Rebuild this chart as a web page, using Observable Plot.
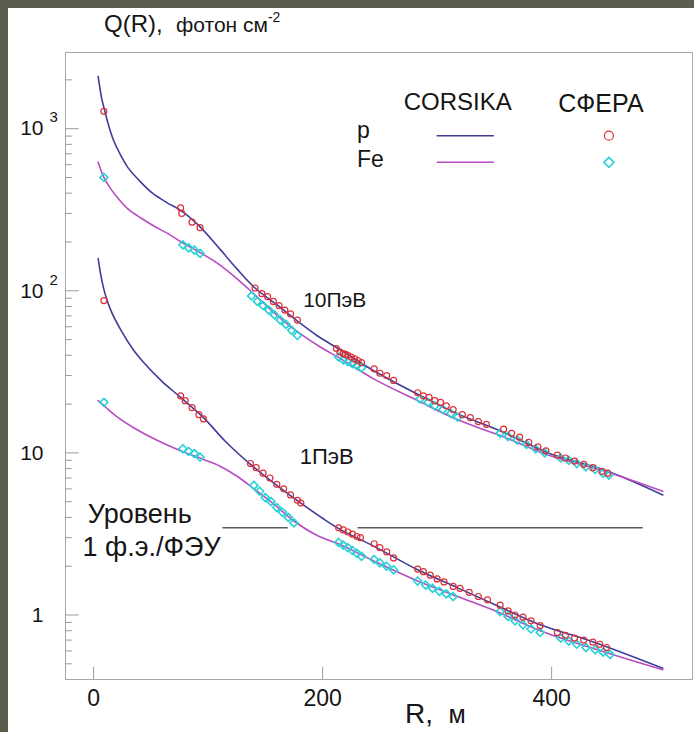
<!DOCTYPE html>
<html><head><meta charset="utf-8">
<script src="https://cdn.jsdelivr.net/npm/d3@7"></script>
<script src="https://cdn.jsdelivr.net/npm/@observablehq/plot@0.6"></script>
<style>
html,body{margin:0;padding:0;background:#5b5b4e;width:694px;height:732px;overflow:hidden;font-family:"Liberation Sans",Arial,sans-serif;}
#panel{position:absolute;left:8px;top:8px;width:686px;height:724px;background:#fff;}
#chart{position:absolute;left:8px;top:8px;}
#title{position:absolute;left:104px;top:10px;font-size:24px;color:#151515;white-space:nowrap;}
#xlabel{position:absolute;left:405px;top:699px;font-size:28px;color:#151515;white-space:nowrap;line-height:30px;}
</style></head>
<body>
<div id="panel"></div>
<div id="chart"></div>
<div id="title">Q(R),&nbsp; <span style="font-size:21px">фотон см<sup style="font-size:14px;position:relative;top:-2px">-2</sup></span></div>
<div id="xlabel">R,&nbsp;&nbsp;<span style="font-size:25px">м</span></div>
<script>
// ---- data (R in metres, Q in photons/cm^2) ----
const corsikaP10 = [[4,2100],[7,1550],[10,1270],[14,1000],[18,830],[24,680],[30,575],[41,470],[52,397],[64,350],[77,310],[93,248],[110,182],[125,137],[141,104],[160,82],[178,65],[195,53],[216,43],[245,32],[283,23],[318,17.4],[355,13.7],[397,10.0],[449,7.7],[497,5.5]];
const corsikaFe10 = [[4,620],[9,500],[15,425],[21,375],[30,320],[41,282],[53,250],[65,225],[78,197],[93,172],[108,148],[122,124],[137,100],[150,82],[165,66],[181,54],[198,45],[216,38],[245,28.5],[283,21],[318,16],[355,12.8],[397,9.7],[449,7.6],[497,5.8]];
const corsikaP1 = [[4,158],[7,118],[10,96],[15,76],[24,57],[35,43],[44,36],[60,27.5],[76,22],[96,16.5],[115,11.8],[137,8.5],[160,6.3],[181,4.9],[200,3.95],[216,3.35],[245,2.65],[283,1.9],[318,1.47],[355,1.12],[390,0.87],[437,0.68],[497,0.47]];
const corsikaFe1 = [[4,21],[10,19.3],[20,16.8],[35,14.3],[55,12],[76,10.3],[96,9.1],[110,8.3],[125,7.2],[140,6.0],[158,4.8],[175,3.8],[195,3.1],[216,2.7],[245,2.15],[283,1.62],[318,1.3],[355,1.03],[390,0.8],[437,0.62],[497,0.46]];

const spheraP10 = [[9,1280],[76,325],[77,300],[86,265],[93,245],
  [141,104],[147,96],[152,92],[157,86],[162,81],[167,76],[172,72],[178,66],
  [212,44],[215,42],[218,41],[220,40.5],[222,40],[225,39],[228,38],[231,37],[234,36],
  [245,33],[250,31],[256,30],[262,28],
  [283,23.5],[288,22.5],[293,22],[298,21],[303,20.5],[308,19.5],[314,18.5],
  [322,17.2],[329,16.5],[336,15.6],[343,15],
  [358,14],[365,13.2],[372,12.5],[380,11.6],[388,10.9],[395,10.3],
  [405,9.7],[412,9.3],[420,8.9],[428,8.5],[436,8.1],[444,7.7],[449,7.5]];
const spheraFe10 = [[9,500],[78,192],[83,184],[88,178],[93,170],
  [138,93],[143,86],[148,81],[153,76],[158,71],[163,66],[168,62],[173,57],[178,53],
  [214,39],[218,37.5],[222,36.5],[226,35.5],[230,34.5],[234,33.5],
  [285,21.5],[292,20.5],[298,19.5],[305,18.5],[312,17.5],[318,16.6],
  [355,13.2],[362,12.6],[370,12],[378,11.3],[386,10.6],[394,10],
  [408,9.3],[415,9],[422,8.6],[430,8.2],[438,7.9],[445,7.5],[450,7.3]];
const spheraP1 = [[9,87],[76,22.5],[80,21],[86,19],[92,17.2],[96,16.2],
  [137,8.6],[142,8.1],[148,7.5],[154,7],[160,6.4],[166,6],[172,5.5],[178,5.1],[181,4.9],
  [214,3.45],[218,3.35],[222,3.25],[226,3.15],[230,3.05],[233,3.0],
  [245,2.75],[250,2.6],[256,2.45],[262,2.25],
  [283,1.92],[288,1.85],[294,1.76],[300,1.67],[306,1.6],[314,1.5],
  [320,1.46],[328,1.38],[336,1.3],[344,1.24],
  [355,1.15],[362,1.06],[368,1.0],[375,0.97],[382,0.92],[390,0.86],
  [405,0.78],[412,0.75],[420,0.72],[428,0.7],[436,0.68],[442,0.66],[448,0.63]];
const spheraFe1 = [[9,20.5],[78,10.6],[83,10.2],[88,9.9],[93,9.4],
  [140,6.3],[145,5.8],[150,5.3],[155,5.0],[160,4.6],[165,4.3],[170,4.0],[175,3.7],
  [214,2.8],[218,2.7],[222,2.6],[226,2.5],[230,2.4],[234,2.3],
  [245,2.2],[250,2.1],[256,2.0],[262,1.9],
  [283,1.62],[290,1.53],[296,1.46],[302,1.4],[308,1.35],[314,1.3],
  [355,1.05],[362,0.98],[368,0.92],[375,0.87],[382,0.82],[390,0.78],
  [408,0.72],[415,0.69],[422,0.66],[430,0.63],[438,0.61],[445,0.59],[451,0.57]];

const levelQ = 3.45;                       // 1 p.e. per PMT
const levelSegments = [[113,170],[231,480]];

const xTicks = [0, 200, 400];
const yTicks = [1, 10, 100, 1000];
const yTickBase = ["1", "10", "10", "10"];
const yTickExp = ["", "", "2", "3"];
const energyLabels = ["10ПэВ", "1ПэВ"];
const levelLabels = ["Уровень", "1 ф.э./ФЭУ"];
const legendHeads = ["CORSIKA", "СФЕРА"];
const legendRows = ["p", "Fe"];

// ---- styling ----
const xDomain = [-24.5, 523];
const yDomain = [0.4, 2950];
const colP = "#3e3e9a", colFe = "#b84cc0", colPdat = "#dc3038", colFedat = "#26d2d6";
const axisCol = "#9c9c9c";

const minorTicks = [];
for (const dec of [0.1, 1, 10, 100, 1000]) for (let k = 2; k <= 9; k++) {
  const v = dec * k; if (v > yDomain[0] * 1.05 && v < yDomain[1]) minorTicks.push(v);
}
const X = d => d[0], Y = d => d[1];
const tickMap = new Map(yTicks.map((t, i) => [t, i]));

const chart = Plot.plot({
  width: 686, height: 724,
  marginLeft: 57, marginRight: 2, marginTop: 44, marginBottom: 53,
  style: {background: "transparent", fontFamily: "Liberation Sans, Arial, sans-serif", color: "#151515"},
  x: {domain: xDomain},
  y: {type: "log", domain: yDomain},
  marks: [
    Plot.frame({stroke: "#a8a8a8"}),
    Plot.ruleY(minorTicks, {x1: xDomain[0], x2: xDomain[0] + 6, stroke: axisCol}),
    Plot.ruleY(yTicks, {x1: xDomain[0], x2: xDomain[0] + 12, stroke: axisCol}),
    Plot.ruleX(xTicks, {y1: yDomain[0], y2: yDomain[0] * 1.19, stroke: axisCol}),
    Plot.axisX({ticks: xTicks, tickSize: 0, tickPadding: 10, fontSize: 23, label: null, tickFormat: d => String(d)}),
    Plot.axisY({ticks: yTicks, tickSize: 0, tickPadding: 22, fontSize: 21, label: null, textAnchor: "end", tickFormat: d => yTickBase[tickMap.get(d)]}),
    Plot.axisY({ticks: yTicks.filter((d, i) => yTickExp[i]), tickSize: 0, tickPadding: 16, fontSize: 15, label: null, textAnchor: "start", dy: -11, tickFormat: d => yTickExp[tickMap.get(d)]}),

    // threshold level
    Plot.ruleY(levelSegments, {y: () => levelQ, x1: d => d[0], x2: d => d[1], stroke: "#5a5a5a", strokeWidth: 1.4}),

    // CORSIKA curves
    Plot.line(corsikaP10, {x: X, y: Y, stroke: colP, strokeWidth: 1.6, curve: "catmull-rom"}),
    Plot.line(corsikaFe10, {x: X, y: Y, stroke: colFe, strokeWidth: 1.6, curve: "catmull-rom"}),
    Plot.line(corsikaP1, {x: X, y: Y, stroke: colP, strokeWidth: 1.6, curve: "catmull-rom"}),
    Plot.line(corsikaFe1, {x: X, y: Y, stroke: colFe, strokeWidth: 1.6, curve: "catmull-rom"}),

    // SPHERE data
    Plot.dot(spheraFe10, {x: X, y: Y, symbol: "diamond2", r: 3.6, stroke: colFedat, strokeWidth: 1.6}),
    Plot.dot(spheraFe1, {x: X, y: Y, symbol: "diamond2", r: 3.6, stroke: colFedat, strokeWidth: 1.6}),
    Plot.dot(spheraP10, {x: X, y: Y, r: 3, stroke: colPdat, strokeWidth: 1.2, fill: "none"}),
    Plot.dot(spheraP1, {x: X, y: Y, r: 3, stroke: colPdat, strokeWidth: 1.2, fill: "none"}),

    // annotations
    Plot.text([energyLabels[0]], {x: 183, y: 88, text: d => d, textAnchor: "start", fontSize: 21}),
    Plot.text([energyLabels[1]], {x: 180, y: 9.4, text: d => d, textAnchor: "start", fontSize: 22}),
    Plot.text([levelLabels[0]], {x: -5, y: 4.2, text: d => d, textAnchor: "start", fontSize: 27}),
    Plot.text([levelLabels[1]], {x: -9.6, y: 2.6, text: d => d, textAnchor: "start", fontSize: 27}),

    // legend
    Plot.text([legendHeads[0]], {x: 318, y: 1447, text: d => d, fontSize: 24}),
    Plot.text([legendHeads[1]], {x: 443, y: 1427, text: d => d, fontSize: 25}),
    Plot.text([legendRows[0]], {x: 230, y: 975, text: d => d, textAnchor: "start", fontSize: 23}),
    Plot.text([legendRows[1]], {x: 230, y: 645, text: d => d, textAnchor: "start", fontSize: 23}),
    Plot.ruleY([905], {x1: 300, x2: 350, stroke: colP, strokeWidth: 1.6}),
    Plot.ruleY([620], {x1: 300, x2: 350, stroke: colFe, strokeWidth: 1.6}),
    Plot.dot([[450, 905]], {x: X, y: Y, r: 4.5, stroke: colPdat, strokeWidth: 1.2, fill: "none"}),
    Plot.dot([[450, 620]], {x: X, y: Y, symbol: "diamond2", r: 4.5, stroke: colFedat, strokeWidth: 1.6})
  ]
});
document.getElementById("chart").appendChild(chart);
</script>
</body></html>
